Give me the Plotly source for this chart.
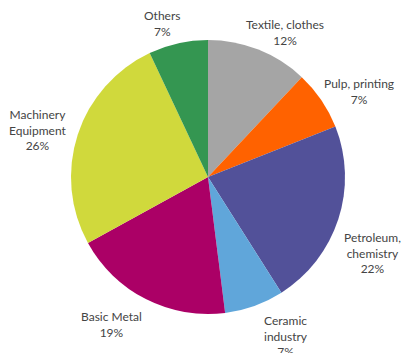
import plotly.graph_objects as go

# Sector shares of industrial energy use (%)
sectors = ["Textile, clothes", "Pulp, printing", "Petroleum, chemistry",
           "Ceramic industry", "Basic Metal", "Machinery Equipment", "Others"]
label_lines = ["Textile, clothes", "Pulp, printing", "Petroleum,<br>chemistry",
               "Ceramic<br>industry", "Basic Metal", "Machinery<br>Equipment", "Others"]
shares = [12, 7, 22, 7, 19, 26, 7]
colors = ["#A5A5A5", "#FF6200", "#525199", "#60A6DA", "#AB0066", "#D0D93C", "#349651"]

W, H = 401, 353
cx, cy, R = 208, 177, 137  # pie centre and radius in pixels (from top-left)

# Where each outside label's text block is centred (pixels from top-left)
label_pos = [(284.5, 32), (358.5, 92), (372.5, 253), (286, 336),
             (111, 324.5), (37.5, 130), (161.5, 24)]

fig = go.Figure(go.Pie(
    labels=sectors,
    values=shares,
    sort=False,
    direction="clockwise",
    rotation=0,
    marker=dict(colors=colors, line=dict(width=0)),
    textinfo="none",
    hoverinfo="label+percent",
    showlegend=False,
    domain=dict(x=[(cx - R) / W, (cx + R) / W],
                y=[(H - cy - R) / H, (H - cy + R) / H]),
))

total = sum(shares)
annotations = []
for name, v, (px, py) in zip(label_lines, shares, label_pos):
    annotations.append(dict(
        x=px / W, y=1 - py / H, xref="paper", yref="paper",
        text=f"{name}<br>{round(v / total * 100)}%",
        showarrow=False, xanchor="center", yanchor="middle",
        font=dict(family="Lato", size=12, color="#444444"),
    ))

fig.update_layout(
    width=W, height=H,
    margin=dict(l=0, r=0, t=0, b=0),
    paper_bgcolor="white",
    plot_bgcolor="white",
    annotations=annotations,
)

fig.write_html("out.html")
